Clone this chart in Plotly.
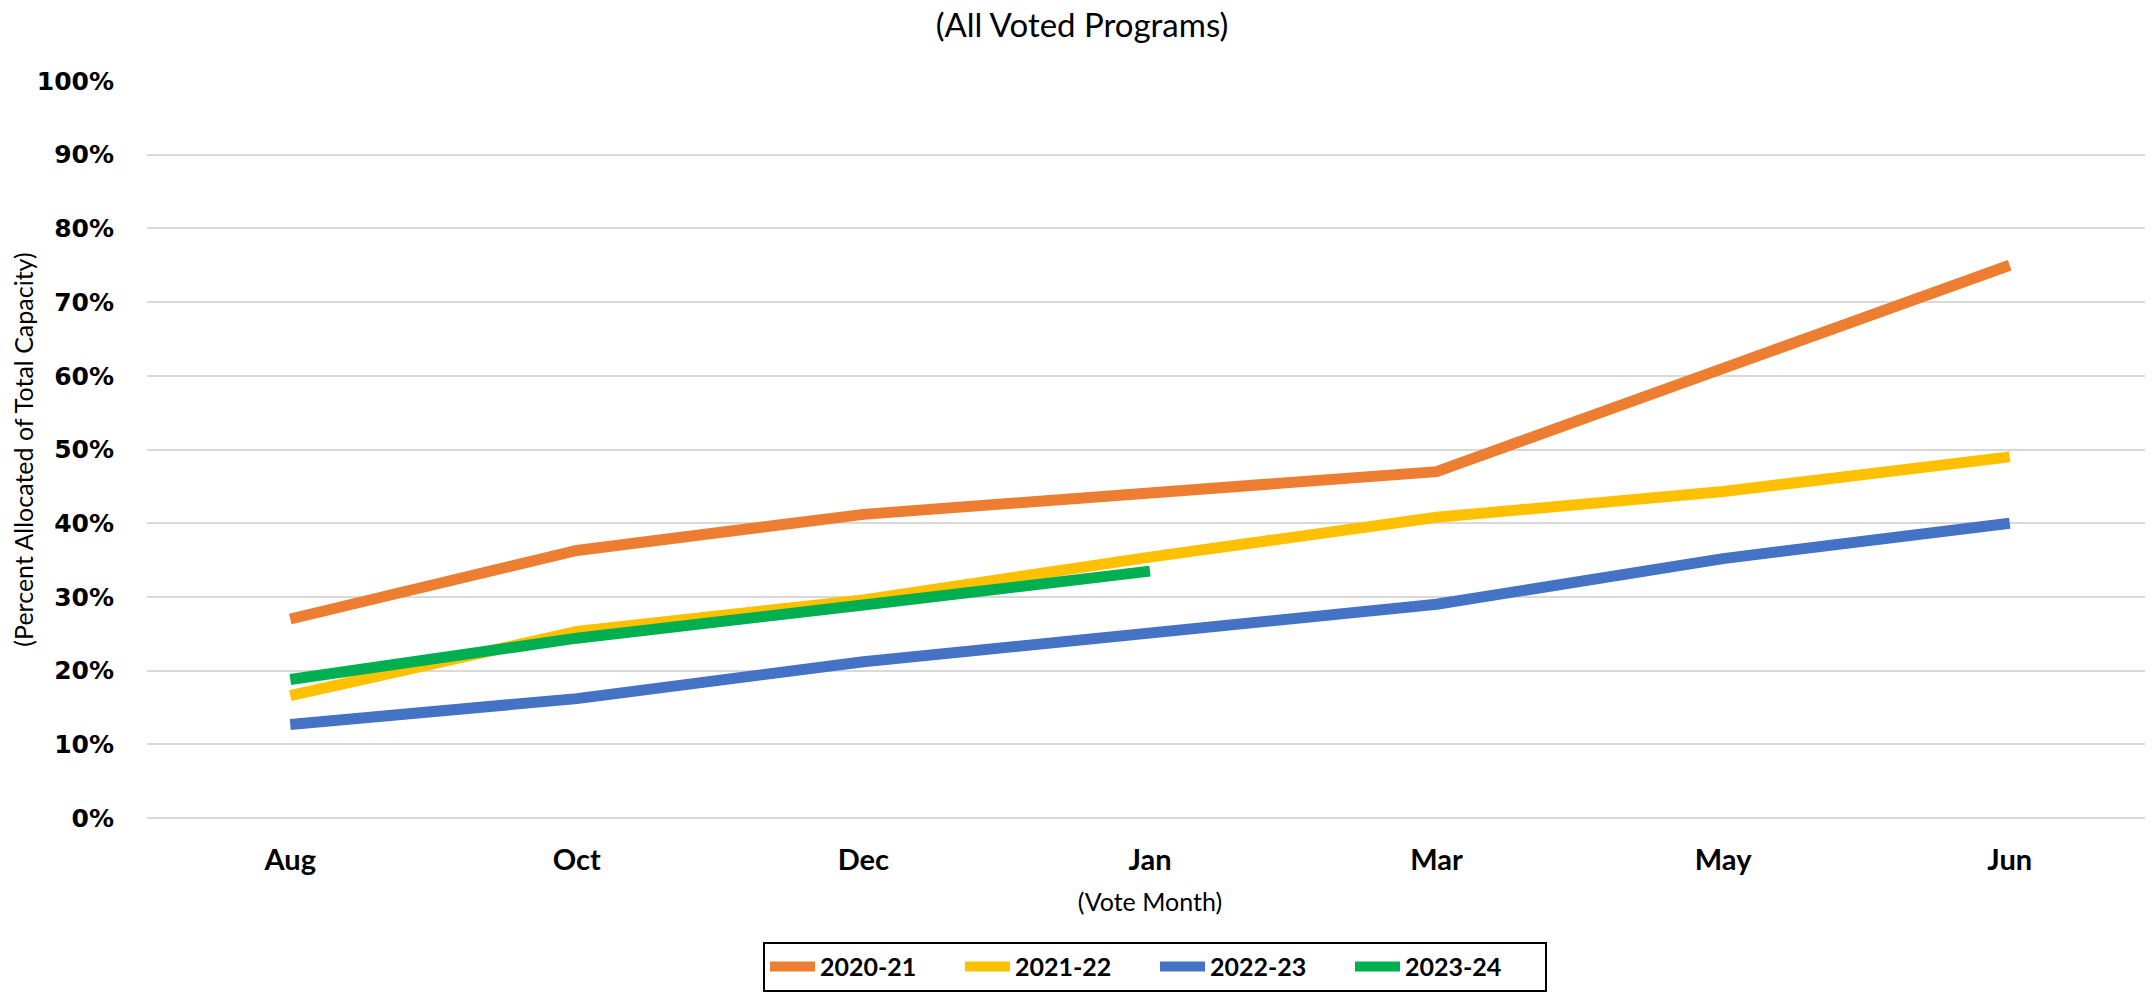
import plotly.graph_objects as go

months = ["Aug", "Oct", "Dec", "Jan", "Mar", "May", "Jun"]
s2020_21 = [0.270, 0.363, 0.412, 0.440, 0.470, 0.610, 0.750]
s2021_22 = [0.166, 0.253, 0.296, 0.354, 0.408, 0.443, 0.490]
s2022_23 = [0.127, 0.162, 0.212, 0.251, 0.290, 0.352, 0.400]
s2023_24 = [0.188, 0.244, 0.289, 0.335]
y_ticks = [i / 10 for i in range(11)]
y_tick_labels = [f"{i*10}%" for i in range(11)]

series = [
    ("2020-21", s2020_21, "#ED7D31"),
    ("2021-22", s2021_22, "#FFC000"),
    ("2022-23", s2022_23, "#4472C4"),
    ("2023-24", s2023_24, "#00B050"),
]

W, H = 2145, 986

fig = go.Figure()
for name, vals, color in series:
    fig.add_trace(go.Scatter(
        x=months[:len(vals)], y=vals, name=name, mode="lines",
        line=dict(color=color, width=11),
    ))

fig.update_layout(
    width=W, height=H,
    paper_bgcolor="white", plot_bgcolor="white",
    margin=dict(l=139, r=0, t=73, b=176),
    title=dict(text="(All Voted Programs)", x=(1082 - 8) / W, xanchor="center",
               y=1.0, yanchor="top", pad=dict(t=6, b=0, l=0, r=0),
               font=dict(family="Lato", size=33, color="#000000")),
    showlegend=True,
    legend=dict(orientation="h", x=0.5025, xanchor="center", y=-0.168, yanchor="top",
                bordercolor="#000000", borderwidth=2,
                font=dict(family="Lato", size=25, color="#000000", weight="bold"),
                entrywidth=135, itemwidth=45),
)
fig.update_xaxes(
    type="category", categoryorder="array", categoryarray=months,
    range=[-0.5, 6.5], showgrid=False, showline=False, zeroline=False,
    ticks="", ticklabelstandoff=22,
    tickfont=dict(family="Lato", size=29, color="#000000", weight="bold"),
    title=dict(text="(Vote Month)", standoff=18,
               font=dict(family="Lato", size=25, color="#000000")),
)
fig.update_yaxes(
    range=[0, 1], tickvals=y_ticks, ticktext=y_tick_labels,
    showgrid=True, gridcolor="#D9D9D9", gridwidth=2,
    zeroline=True, zerolinecolor="#D9D9D9", zerolinewidth=2,
    showline=False, ticks="", ticklabelstandoff=32,
    tickfont=dict(family="DejaVu Sans", size=25, color="#000000", weight="bold"),
    title=dict(text="(Percent Allocated of Total Capacity)", standoff=0,
               font=dict(family="Lato", size=25, color="#000000")),
)
fig.write_html("out.html")
